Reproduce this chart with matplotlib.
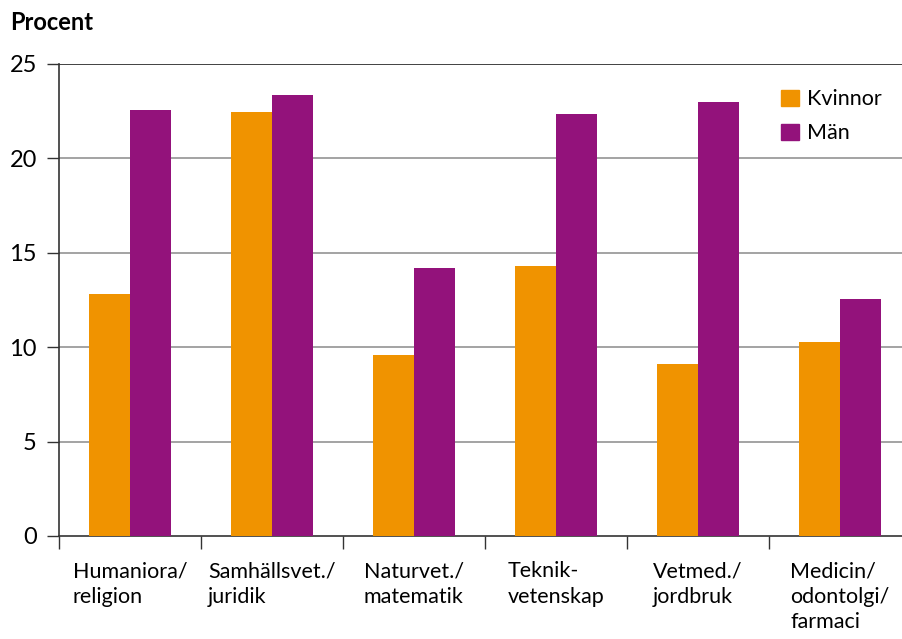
import numpy as np
import matplotlib.pyplot as plt
from matplotlib.patches import Patch

plt.rcParams['font.family'] = ['Lato', 'DejaVu Sans']

kategorier = ['Humaniora/\nreligion', 'Samhällsvet./\njuridik', 'Naturvet./\nmatematik',
              'Teknik-\nvetenskap', 'Vetmed./\njordbruk', 'Medicin/\nodontolgi/\nfarmaci']
kvinnor = [12.8, 22.45, 9.6, 14.3, 9.1, 10.3]
man = [22.55, 23.35, 14.2, 22.35, 23.0, 12.55]

orange = '#f09300'
lila = '#93127b'

fig = plt.figure(figsize=(9.02, 6.39), dpi=100)
ax = fig.add_axes([59/902, 1-536/639, 852/902, (536-64)/639])

x = np.arange(len(kategorier))
w = 0.29
ax.bar(x - w/2, kvinnor, w, color=orange, zorder=3)
ax.bar(x + w/2, man, w, color=lila, zorder=3)

ax.set_xlim(-0.5, 5.5)
ax.set_ylim(0, 25)
ax.set_yticks([0, 5, 10, 15, 20, 25])
for v in [5, 10, 15, 20]:
    ax.axhline(v, color='#8a8a8a', lw=1.1, zorder=1)
ax.axhline(25, color='#333333', lw=1.3, zorder=1)

ax.set_xticks(x)
ax.set_xticklabels(kategorier, ha='center', multialignment='left', fontsize=15.5,
                   linespacing=1.35)
ax.set_xticks(np.arange(-0.5, 6, 1), minor=True)
ax.tick_params(axis='x', which='major', length=0, pad=18)
ax.tick_params(axis='x', which='minor', length=9, width=1, color='#333333')
ax.tick_params(axis='y', length=9, width=1, color='#333333', labelsize=17, pad=7)

for s in ['top', 'right']:
    ax.spines[s].set_visible(False)
ax.spines['left'].set_color('#333333')
ax.spines['bottom'].set_color('#333333')
ax.spines['left'].set_linewidth(1.2)
ax.spines['bottom'].set_linewidth(1.2)

fig.text(10/902, 1-23/639, 'Procent', fontsize=17, fontweight='bold', va='center', ha='left')

handles = [Patch(color=orange, label='Kvinnor'), Patch(color=lila, label='Män')]
fig.legend(handles=handles, loc='upper left', bbox_to_anchor=(762/902, 1-70/639),
           frameon=False, fontsize=15.5, handlelength=0.8, handleheight=0.8,
           handletextpad=0.4, labelspacing=0.65)

fig.savefig('out.png', dpi=100)
